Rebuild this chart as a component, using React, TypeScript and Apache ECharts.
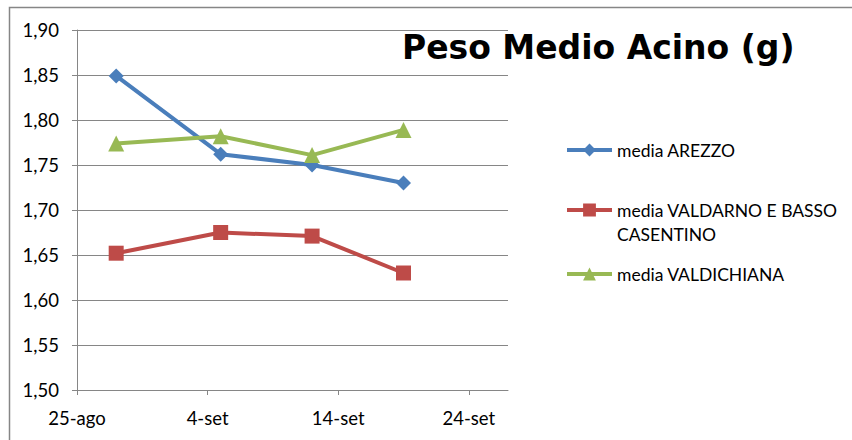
import React, { useEffect, useRef } from "react";
import * as echarts from "echarts";

const sampleDates = ["28-ago", "5-set", "12-set", "19-set"];
const arezzo = [1.849, 1.762, 1.75, 1.73];
const valdarno = [1.652, 1.675, 1.671, 1.63];
const valdichiana = [1.774, 1.782, 1.761, 1.789];
const seriesNames = ["media AREZZO", "media VALDARNO E BASSO\nCASENTINO", "media VALDICHIANA"];
const axisStartDate = "25-ago";
const xTicks = [0, 10, 20, 30];
const titleText = "Peso Medio Acino (g)";

const months = ["gen", "feb", "mar", "apr", "mag", "giu", "lug", "ago", "set", "ott", "nov", "dic"];
const REF_YEAR = 2001;
function toDate(s: string) {
  const [d, m] = s.split("-");
  return Date.UTC(REF_YEAR, months.indexOf(m), parseInt(d, 10));
}
const DAY = 86400000;
const base = toDate(axisStartDate);
const dayOffset = (s: string) => Math.round((toDate(s) - base) / DAY);
function fmtDay(v: number) {
  const d = new Date(base + v * DAY);
  return d.getUTCDate() + "-" + months[d.getUTCMonth()];
}

const FONT = "Lato, 'Noto Sans', sans-serif";

export default function App() {
  const ref = useRef<HTMLDivElement>(null);
  useEffect(() => {
    document.body.style.margin = "0";
    const chart = echarts.init(ref.current!, null, { renderer: "svg" });
    const mk = (vals: number[]) => sampleDates.map((d, i) => [dayOffset(d), vals[i]]);
    const colors = ["#4a7ebb", "#be4b48", "#98b954"];
    const symbols = ["diamond", "rect", "triangle"];
    const sizes = [15, 15, 16];
    const datas = [arezzo, valdarno, valdichiana];
    const legendTops = [138, 174, 262];
    const option: any = {
      animation: false,
      backgroundColor: "#ffffff",
      textStyle: { fontFamily: FONT },
      title: {
        text: titleText,
        left: 402,
        top: 31,
        padding: 0,
        textStyle: {
          fontFamily: "'DejaVu Sans', sans-serif",
          fontWeight: "bold",
          fontSize: 33,
          color: "#000",
        },
      },
      grid: { left: 77, right: 344, top: 30, bottom: 50, containLabel: false },
      xAxis: {
        type: "value",
        min: 0,
        max: 33,
        interval: 10,
        splitLine: { show: false },
        axisLine: { show: true, onZero: false, lineStyle: { color: "#868686", width: 1 } },
        axisTick: { show: true, length: 5, customValues: xTicks, lineStyle: { color: "#868686" } },
        axisLabel: {
          customValues: xTicks,
          formatter: (v: number) => fmtDay(v),
          color: "#000",
          fontSize: 18.5,
          fontFamily: FONT,
          margin: 18,
        },
      },
      yAxis: {
        type: "value",
        min: 1.5,
        max: 1.9,
        interval: 0.05,
        splitLine: { show: true, lineStyle: { color: "#868686", width: 1 } },
        axisLine: { show: true, lineStyle: { color: "#868686", width: 1 } },
        axisTick: { show: true, length: 5, lineStyle: { color: "#868686" } },
        axisLabel: {
          formatter: (v: number) => v.toFixed(2).replace(".", ","),
          color: "#000",
          fontSize: 18.5,
          fontFamily: FONT,
          margin: 18,
        },
      },
      legend: seriesNames.map((n, i) => ({
        data: [n],
        orient: "vertical",
        left: 565,
        top: legendTops[i],
        padding: 0,
        itemWidth: 45,
        itemHeight: 16,
        itemGap: 0,
        lineStyle: { width: 4 },
        formatter: i === 1 ? (name: string) => "\n" + name : undefined,
        textStyle: {
          fontSize: 17.5,
          fontFamily: FONT,
          color: "#000",
          lineHeight: 24,
        },
      })),
      series: datas.map((d, i) => ({
        name: seriesNames[i],
        type: "line",
        data: mk(d),
        symbol: symbols[i],
        symbolSize: sizes[i],
        color: colors[i],
        lineStyle: { width: 4, color: colors[i] },
        itemStyle: { color: colors[i] },
      })),
      graphic: [
        {
          type: "polyline",
          shape: { points: [[9.5, 440], [9.5, 7.5], [852, 7.5]] },
          style: { stroke: "#868686", lineWidth: 1.5, fill: null },
          silent: true,
        },
      ],
    };
    chart.setOption(option);
    return () => chart.dispose();
  }, []);
  return <div ref={ref} style={{ width: 852, height: 440 }} />;
}
